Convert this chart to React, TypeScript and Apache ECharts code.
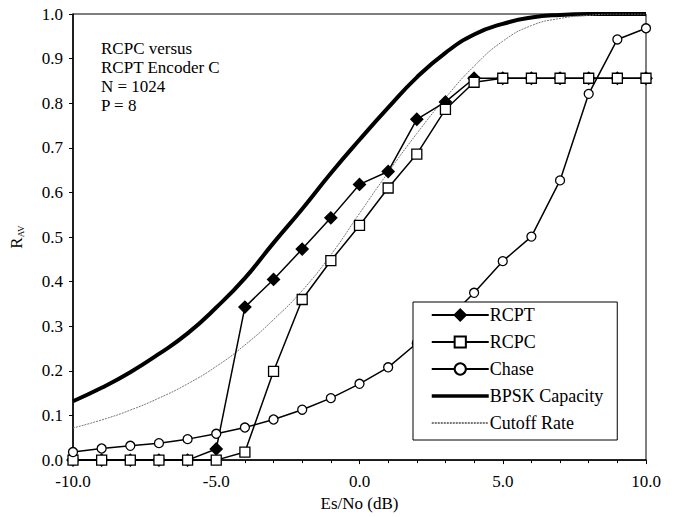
import React, { useEffect, useRef } from "react";
import * as echarts from "echarts";

const esNo = [-10, -9, -8, -7, -6, -5, -4, -3, -2, -1, 0, 1, 2, 3, 4, 5, 6, 7, 8, 9, 10];
const rcpt = [0, 0, 0, 0, 0, 0.025, 0.343, 0.405, 0.473, 0.543, 0.618, 0.647, 0.764, 0.803, 0.856, 0.856, 0.856, 0.856, 0.856, 0.856, 0.856];
const rcpc = [0, 0, 0, 0, 0, 0, 0.018, 0.199, 0.36, 0.447, 0.526, 0.61, 0.686, 0.786, 0.847, 0.856, 0.856, 0.856, 0.856, 0.856, 0.856];
const chase = [0.018, 0.026, 0.032, 0.038, 0.047, 0.059, 0.073, 0.091, 0.113, 0.139, 0.171, 0.208, 0.262, 0.31, 0.375, 0.446, 0.501, 0.627, 0.821, 0.943, 0.968];
const bpsk = [0.132, 0.162, 0.197, 0.238, 0.284, 0.342, 0.408, 0.487, 0.563, 0.643, 0.718, 0.79, 0.858, 0.913, 0.954, 0.978, 0.992, 0.998, 1, 1, 1];
const cutoff = [0.072, 0.09, 0.112, 0.139, 0.171, 0.21, 0.258, 0.315, 0.38, 0.46, 0.553, 0.645, 0.732, 0.812, 0.883, 0.939, 0.974, 0.99, 0.997, 1, 1];
const seriesNames = ["RCPT", "RCPC", "Chase", "BPSK Capacity", "Cutoff Rate"];
const noteLines = ["RCPC versus", "RCPT Encoder C", "N = 1024", "P = 8"];

const FONT = "'Liberation Serif', 'DejaVu Serif', 'Times New Roman', Times, serif";

function pairs(ys: number[]) {
  return esNo.map((x, i) => [x, ys[i]]);
}

export default function App() {
  const ref = useRef<HTMLDivElement>(null);
  useEffect(() => {
    document.body.style.margin = "0";
    if (!ref.current) return;
    const chart = echarts.init(ref.current, null, { renderer: "svg" });
    const markerLine = (name: string, ys: number[], symbol: string, size: number, filled: boolean) => ({
      name,
      type: "line",
      data: pairs(ys),
      symbol,
      symbolSize: size,
      showAllSymbol: true,
      clip: false,
      lineStyle: { color: "#000", width: 1.5 },
      itemStyle: { color: filled ? "#000" : "#fff", borderColor: "#000", borderWidth: 1.3 },
      z: 3,
    });
    chart.setOption({
      animation: false,
      backgroundColor: "#fff",
      textStyle: { fontFamily: FONT },
      grid: { left: 72, right: 28, top: 14, bottom: 50, show: true, borderColor: "#000", borderWidth: 1, backgroundColor: "transparent" },
      xAxis: {
        type: "value",
        min: -10,
        max: 10,
        interval: 5,
        name: "Es/No (dB)",
        nameLocation: "middle",
        nameGap: 30,
        nameTextStyle: { fontFamily: FONT, fontSize: 17, color: "#000" },
        axisLine: { onZero: false, lineStyle: { color: "#000", width: 1.5 } },
        axisTick: { show: true, inside: false, length: 4, lineStyle: { color: "#000" } },
        minorTick: { show: true, splitNumber: 5, length: 3, lineStyle: { color: "#000" } },
        splitLine: { show: false },
        axisLabel: { margin: 13, fontFamily: FONT, fontSize: 17, color: "#000", formatter: (v: number) => v.toFixed(1) },
      },
      yAxis: {
        type: "value",
        min: 0,
        max: 1,
        interval: 0.1,
        name: "{r|R}{s|AV}",
        nameLocation: "middle",
        nameRotate: 90,
        nameGap: 48,
        nameTextStyle: {
          rich: {
            r: { fontFamily: FONT, fontSize: 17, color: "#000" },
            s: { fontFamily: FONT, fontSize: 9, color: "#000", verticalAlign: "bottom", padding: [6, 0, 0, 0] },
          },
        },
        axisLine: { show: true, onZero: false, lineStyle: { color: "#000", width: 1.5 } },
        axisTick: { show: true, inside: false, length: 4, lineStyle: { color: "#000" } },
        splitLine: { show: false },
        axisLabel: { margin: 10, fontFamily: FONT, fontSize: 17, color: "#000", formatter: (v: number) => v.toFixed(1) },
      },
      legend: {
        left: 413,
        top: 302,
        orient: "vertical",
        backgroundColor: "#fff",
        borderColor: "#000",
        borderWidth: 1,
        padding: [4, 14, 8, 17],
        itemWidth: 57,
        itemHeight: 14,
        itemGap: 9,
        data: [
          { name: seriesNames[0] },
          { name: seriesNames[1] },
          { name: seriesNames[2] },
          { name: seriesNames[3], itemStyle: { opacity: 0 }, lineStyle: { width: 3.5 } },
          { name: seriesNames[4], itemStyle: { opacity: 0 } },
        ],
        textStyle: { fontFamily: FONT, fontSize: 18, lineHeight: 16, color: "#000", padding: [0, 0, 0, -4] },
        z: 10,
      },
      graphic: noteLines.map((line, i) => ({
        type: "text",
        left: 101,
        top: 40 + i * 19,
        style: { text: line, font: `17px ${FONT}`, fill: "#000" },
        z: 10,
      })),
      series: [
        markerLine(seriesNames[0], rcpt, "diamond", 12, true),
        markerLine(seriesNames[1], rcpc, "rect", 10, false),
        markerLine(seriesNames[2], chase, "circle", 9, false),
        {
          name: seriesNames[3],
          type: "line",
          data: pairs(bpsk),
          symbol: "none",
          smooth: true,
          lineStyle: { color: "#000", width: 4 },
          itemStyle: { color: "#000" },
          z: 2,
        },
        {
          name: seriesNames[4],
          type: "line",
          data: pairs(cutoff),
          symbol: "none",
          smooth: true,
          lineStyle: { color: "#777", width: 1, type: [2, 1] },
          itemStyle: { color: "#777" },
          z: 2,
        },
      ],
    });
    return () => chart.dispose();
  }, []);
  return <div ref={ref} style={{ width: 674, height: 517 }} />;
}
